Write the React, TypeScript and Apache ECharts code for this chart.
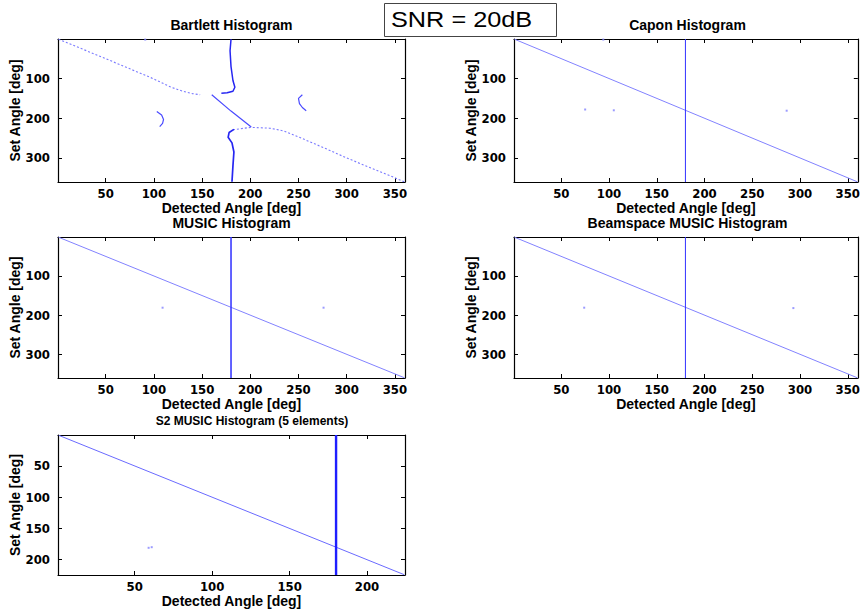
import React, { useEffect, useRef } from "react";
import * as echarts from "echarts";

// ---- axis ticks ----
const fullXTicks = [50, 100, 150, 200, 250, 300, 350];
const fullYTicks = [100, 200, 300];
const s2XTicks = [50, 100, 150, 200];
const s2YTicks = [50, 100, 150, 200];
const FULL_BINS = 360;
const S2_BINS = 224;

// ---- Bartlett ----
const bartlettUpperDiag = [[1, 1], [50, 50], [98, 99], [118, 122], [130, 132], [140, 138], [148, 141]];
const bartlettCross = [[160, 141], [180, 182], [201, 222]];
const bartlettLowerDiag = [[182, 229], [200, 223], [220, 225], [235, 232], [250, 247], [275, 273], [300, 300], [330, 330], [360, 360]];
const bartlettUpperVert = [[180, 1], [179, 30], [180, 70], [182, 105], [184, 122], [182, 132], [176, 136], [170, 137]];
const bartlettLowerVert = [[183, 228], [178, 236], [177, 248], [181, 262], [183, 285], [182, 320], [181, 360]];
const bartlettArcLeft = [[103, 183], [108, 192], [110, 203], [109, 213], [106, 221]];
const bartlettArcRight = [[254, 141], [250, 150], [251, 163], [254, 173], [258, 181]];
const bartlettDots = [[91, 2]];

// ---- Capon ----
const caponDiag = [[1, 1], [360, 360]];
const caponVert = [[180, 0.5], [180, 360.5]];
const caponDots = [[75, 178], [105, 180], [286, 181], [94, 2]];

// ---- MUSIC ----
const musicDiag = [[1, 1], [360, 360]];
const musicVert = [[180, 0.5], [180, 360.5]];
const musicDots = [[109, 181], [276, 181]];

// ---- Beamspace MUSIC ----
const beamDiag = [[1, 1], [360, 360]];
const beamVert = [[180, 0.5], [180, 360.5]];
const beamDots = [[74, 181], [293, 182]];

// ---- S2 MUSIC ----
const s2Diag = [[1, 1], [224, 224]];
const s2Vert = [[180, 0.5], [180, 224.5]];
const s2Dots = [[59, 181], [61, 180]];

const TICK_FONT = "'Liberation Sans Narrow', 'Arial Narrow', 'DejaVu Sans Condensed', sans-serif";
const TEXT_FONT = "'Liberation Sans', Arial, Helvetica, sans-serif";

const LIGHT = "#8282ff";
const MID = "#4a4aff";
const DARK = "#2626f2";

type Panel = {
  title: string;
  titleSize: number;
  titleY: number;
  titleX?: number;
  grid: { left: number; top: number; width: number; height: number };
  bins: number;
  xTicks: number[];
  yTicks: number[];
  lines: { data: number[][]; color: string; width: number; type?: any }[];
  dots: number[][];
};

const panels: Panel[] = [
  {
    title: "Bartlett Histogram",
    titleSize: 14,
    titleY: 25,
    grid: { left: 58, top: 39, width: 347, height: 143 },
    bins: FULL_BINS,
    xTicks: fullXTicks,
    yTicks: fullYTicks,
    lines: [
      { data: bartlettUpperDiag, color: "#7a7aff", width: 1.1, type: [2, 2] },
      { data: bartlettCross, color: MID, width: 1.2 },
      { data: bartlettLowerDiag, color: "#7a7aff", width: 1.1, type: [2, 2] },
      { data: bartlettUpperVert, color: DARK, width: 1.5 },
      { data: bartlettLowerVert, color: DARK, width: 1.7 },
      { data: bartlettArcLeft, color: MID, width: 1.2 },
      { data: bartlettArcRight, color: MID, width: 1.2 },
    ],
    dots: bartlettDots,
  },
  {
    title: "Capon Histogram",
    titleSize: 14,
    titleY: 25,
    grid: { left: 514, top: 39, width: 347, height: 143 },
    bins: FULL_BINS,
    xTicks: fullXTicks,
    yTicks: fullYTicks,
    lines: [
      { data: caponDiag, color: LIGHT, width: 1 },
      { data: caponVert, color: "#3232ff", width: 1 },
    ],
    dots: caponDots,
  },
  {
    title: "MUSIC Histogram",
    titleSize: 14,
    titleY: 223,
    grid: { left: 58, top: 237, width: 347, height: 141 },
    bins: FULL_BINS,
    xTicks: fullXTicks,
    yTicks: fullYTicks,
    lines: [
      { data: musicDiag, color: LIGHT, width: 1 },
      { data: musicVert, color: "#3c3cff", width: 1.6 },
    ],
    dots: musicDots,
  },
  {
    title: "Beamspace MUSIC Histogram",
    titleSize: 14,
    titleY: 223,
    grid: { left: 514, top: 237, width: 347, height: 141 },
    bins: FULL_BINS,
    xTicks: fullXTicks,
    yTicks: fullYTicks,
    lines: [
      { data: beamDiag, color: LIGHT, width: 1 },
      { data: beamVert, color: "#3232ff", width: 1 },
    ],
    dots: beamDots,
  },
  {
    title: "S2 MUSIC Histogram (5 elements)",
    titleSize: 12,
    titleY: 421,
    titleX: 252,
    grid: { left: 58, top: 435, width: 347, height: 140 },
    bins: S2_BINS,
    xTicks: s2XTicks,
    yTicks: s2YTicks,
    lines: [
      { data: s2Diag, color: "#6a6aff", width: 1 },
      { data: s2Vert, color: "#1e1eff", width: 2.4 },
    ],
    dots: s2Dots,
  },
];

function buildOption() {
  const grid: any[] = [];
  const xAxis: any[] = [];
  const yAxis: any[] = [];
  const series: any[] = [];
  const graphic: any[] = [];

  const nameStyle = { fontFamily: TEXT_FONT, fontWeight: "bold", fontSize: 14, color: "#000" };
  const tickLabel = { fontFamily: TICK_FONT, fontWeight: "bold", fontSize: 13, color: "#000" };
  const axisLine = { show: true, onZero: false, lineStyle: { color: "#000", width: 1.2 } };

  panels.forEach((p, i) => {
    grid.push({ ...p.grid, containLabel: false, show: false });
    const min = 0.5;
    const max = p.bins + 0.5;
    xAxis.push({
      type: "value", gridIndex: i, position: "bottom", min, max,
      axisLine,
      axisTick: { show: true, inside: true, length: 4, customValues: p.xTicks, lineStyle: { color: "#000" } },
      axisLabel: { show: true, customValues: p.xTicks, margin: 5, ...tickLabel },
      splitLine: { show: false },
      name: "Detected Angle [deg]", nameLocation: "middle", nameGap: 19, nameTextStyle: nameStyle,
    });
    xAxis.push({
      type: "value", gridIndex: i, position: "top", min, max,
      axisLine,
      axisTick: { show: true, inside: true, length: 4, customValues: p.xTicks, lineStyle: { color: "#000" } },
      axisLabel: { show: false },
      splitLine: { show: false },
    });
    yAxis.push({
      type: "value", gridIndex: i, position: "left", min, max, inverse: true,
      axisLine,
      axisTick: { show: true, inside: true, length: 4, customValues: p.yTicks, lineStyle: { color: "#000" } },
      axisLabel: { show: true, customValues: p.yTicks, margin: 8, ...tickLabel },
      splitLine: { show: false },
      name: "Set Angle [deg]", nameLocation: "middle", nameGap: 32, nameTextStyle: nameStyle,
    });
    yAxis.push({
      type: "value", gridIndex: i, position: "right", min, max, inverse: true,
      axisLine,
      axisTick: { show: true, inside: true, length: 4, customValues: p.yTicks, lineStyle: { color: "#000" } },
      axisLabel: { show: false },
      splitLine: { show: false },
    });

    p.lines.forEach((l) => {
      series.push({
        type: "line", xAxisIndex: 2 * i, yAxisIndex: 2 * i, data: l.data,
        showSymbol: false, symbol: "none", silent: true, clip: true,
        lineStyle: { color: l.color, width: l.width, type: l.type || "solid" },
      });
    });
    series.push({
      type: "scatter", xAxisIndex: 2 * i, yAxisIndex: 2 * i, data: p.dots,
      symbol: "rect", symbolSize: [2, 2], silent: true,
      itemStyle: { color: LIGHT },
    });

    graphic.push({
      type: "text",
      x: p.titleX ?? p.grid.left + p.grid.width / 2,
      y: p.titleY,
      style: {
        text: p.title, fill: "#000", fontFamily: TEXT_FONT, fontWeight: "bold",
        fontSize: p.titleSize, textAlign: "center", textVerticalAlign: "middle",
      },
    });
  });

  graphic.push({
    type: "rect",
    shape: { x: 384.5, y: 3.5, width: 172, height: 33 },
    style: { fill: "#fff", stroke: "#444", lineWidth: 1 },
    z: 10,
  });
  graphic.push({
    type: "text",
    x: 391,
    y: 20,
    scaleX: 1.15,
    style: {
      text: "SNR = 20dB", fill: "#000", fontFamily: TEXT_FONT, fontSize: 22,
      textAlign: "left", textVerticalAlign: "middle",
    },
    z: 11,
  });

  return {
    animation: false,
    backgroundColor: "#fff",
    textStyle: { fontFamily: TEXT_FONT },
    grid, xAxis, yAxis, series, graphic,
  };
}

export default function App() {
  const ref = useRef<HTMLDivElement>(null);
  useEffect(() => {
    if (!ref.current) return;
    const chart = echarts.init(ref.current, undefined, { renderer: "svg" });
    chart.setOption(buildOption() as any);
    return () => chart.dispose();
  }, []);
  return (
    <div
      ref={ref}
      style={{ position: "absolute", left: 0, top: 0, width: 863, height: 615, background: "#fff" }}
    />
  );
}
